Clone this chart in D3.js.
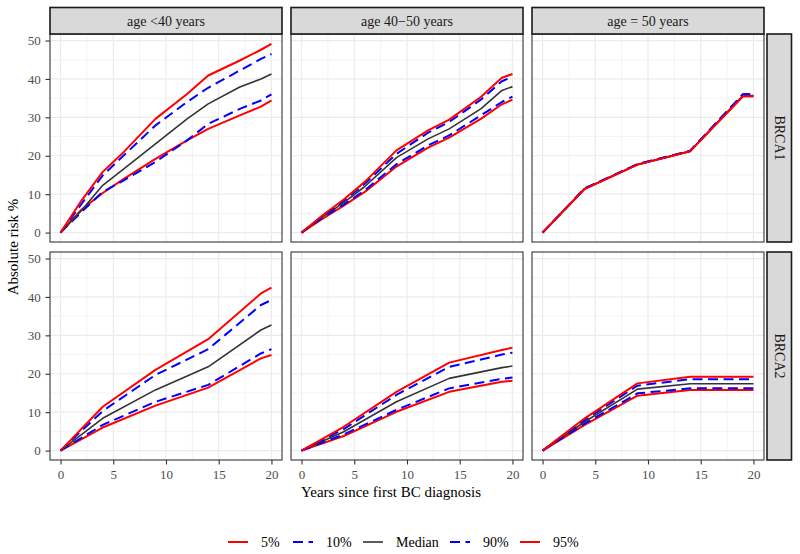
<!DOCTYPE html>
<html><head><meta charset="utf-8">
<script src="https://cdn.jsdelivr.net/npm/d3@7"></script>
<style>body{margin:0;background:#fff}svg{display:block}text{font-family:"Liberation Serif","Times New Roman",serif}</style>
</head><body><svg id="c" width="800" height="554"></svg>
<script>
// ---- data ----
const colLabels = ["age <40 years", "age 40\u221250 years", "age = 50 years"];
const rowLabels = ["BRCA1", "BRCA2"];
const seriesNames = ["5%", "10%", "Median", "90%", "95%"];
const xTicks = [0, 5, 10, 15, 20];
const yTicks = [0, 10, 20, 30, 40, 50];

const yearsFine = [0, 2, 4, 6, 9, 12, 14, 17, 19, 20];
const yearsKnots = [0, 4, 9, 14, 19, 20];

// BRCA1, age <40
const b1_lt40_p5   = [0, 6.0, 10.3, 14.0, 19.2, 24.0, 27.0, 30.5, 32.8, 34.4];
const b1_lt40_p10  = [0, 5.4, 10.6, 13.6, 18.4, 24.0, 28.3, 32.2, 34.4, 36.0];
const b1_lt40_med  = [0, 5.8, 12.3, 16.6, 23.1, 29.6, 33.5, 37.9, 40.0, 41.3];
const b1_lt40_p90  = [0, 7.5, 14.9, 20.1, 27.9, 34.0, 37.7, 42.2, 45.2, 46.5];
const b1_lt40_p95  = [0, 8.4, 15.8, 21.0, 29.6, 36.1, 40.9, 44.8, 47.6, 49.1];
// BRCA1, age 40-50
const b1_4050_p5   = [0, 3.6, 7.0, 10.6, 17.2, 22.1, 24.7, 29.6, 33.4, 34.6];
const b1_4050_p10  = [0, 3.9, 7.3, 11.0, 17.8, 22.7, 25.3, 30.5, 34.0, 35.4];
const b1_4050_med  = [0, 4.1, 7.8, 12.0, 19.5, 24.4, 27.0, 32.2, 37.0, 38.0];
const b1_4050_p90  = [0, 4.3, 8.3, 12.7, 20.5, 26.0, 28.8, 34.6, 39.4, 40.6];
const b1_4050_p95  = [0, 4.5, 8.6, 13.2, 21.4, 26.6, 29.4, 35.3, 40.3, 41.3];
// BRCA1, age 50
const b1_50_p5     = [0, 11.4, 17.7, 21.2, 35.5, 35.5];
const b1_50_p10    = [0, 11.5, 17.8, 21.3, 36.0, 36.0];
const b1_50_med    = [0, 11.4, 17.7, 21.2, 35.7, 35.7];
const b1_50_p90    = [0, 11.5, 17.8, 21.3, 36.0, 36.0];
const b1_50_p95    = [0, 11.4, 17.7, 21.2, 35.5, 35.5];
// BRCA2, age <40
const b2_lt40_p5   = [0, 6.0, 11.7, 16.4, 24.0, 24.9];
const b2_lt40_p10  = [0, 6.7, 12.7, 17.1, 25.3, 26.4];
const b2_lt40_med  = [0, 8.4, 15.8, 21.8, 31.4, 32.7];
const b2_lt40_p90  = [0, 10.3, 19.7, 26.4, 37.9, 39.2];
const b2_lt40_p95  = [0, 11.4, 21.0, 29.0, 40.9, 42.4];
// BRCA2, age 40-50
const b2_4050_p5   = [0, 3.8, 10.1, 15.3, 17.9, 18.2];
const b2_4050_p10  = [0, 4.2, 10.6, 16.2, 18.7, 19.0];
const b2_4050_med  = [0, 4.9, 12.7, 18.8, 21.6, 22.0];
const b2_4050_p90  = [0, 5.6, 14.5, 21.8, 25.0, 25.5];
const b2_4050_p95  = [0, 6.2, 15.3, 22.9, 26.2, 26.8];
// BRCA2, age 50
const b2_50_p5     = [0, 6.7, 14.3, 15.8, 15.8, 15.8];
const b2_50_p10    = [0, 7.0, 14.9, 16.2, 16.2, 16.2];
const b2_50_med    = [0, 7.5, 16.0, 17.4, 17.4, 17.4];
const b2_50_p90    = [0, 8.0, 16.9, 18.6, 18.6, 18.6];
const b2_50_p95    = [0, 8.4, 17.5, 19.2, 19.2, 19.2];

const panels = [
  {row:0, col:0, years: yearsFine,  series:[b1_lt40_p5, b1_lt40_p10, b1_lt40_med, b1_lt40_p90, b1_lt40_p95]},
  {row:0, col:1, years: yearsFine,  series:[b1_4050_p5, b1_4050_p10, b1_4050_med, b1_4050_p90, b1_4050_p95]},
  {row:0, col:2, years: yearsKnots, series:[b1_50_p5, b1_50_p10, b1_50_med, b1_50_p90, b1_50_p95]},
  {row:1, col:0, years: yearsKnots, series:[b2_lt40_p5, b2_lt40_p10, b2_lt40_med, b2_lt40_p90, b2_lt40_p95]},
  {row:1, col:1, years: yearsKnots, series:[b2_4050_p5, b2_4050_p10, b2_4050_med, b2_4050_p90, b2_4050_p95]},
  {row:1, col:2, years: yearsKnots, series:[b2_50_p5, b2_50_p10, b2_50_med, b2_50_p90, b2_50_p95]},
];

// ---- styles ----
const styles = [
  {color:"#FF0000", width:2,   dash:null},
  {color:"#0000FF", width:2,   dash:"10,5.5"},
  {color:"#333333", width:1.6, dash:null},
  {color:"#0000FF", width:2,   dash:"10,5.5"},
  {color:"#FF0000", width:2,   dash:null},
];

const FONT = "Liberation Serif";
const svg = d3.select("#c");
const pw = 232, ph = 208;
const colLeft = [50, 291, 532];
const rowTop = [34, 252];

const xDomain = [-1, 21], yDomain = [-2.45, 51.7];

function styleAxis(ax) {
  ax.attr("font-family", FONT).attr("font-size", 13);
  ax.select(".domain").remove();
  ax.selectAll(".tick line").attr("stroke", "#333333").attr("stroke-width", 1.1);
  ax.selectAll(".tick text").attr("fill", "#4D4D4D").attr("font-family", FONT).attr("font-size", 13);
}

panels.forEach(p => {
  const x0 = colLeft[p.col], y0 = rowTop[p.row];
  const x = d3.scaleLinear().domain(xDomain).range([x0, x0 + pw]);
  const y = d3.scaleLinear().domain(yDomain).range([y0 + ph, y0]);
  const g = svg.append("g");
  g.append("rect").attr("x", x0).attr("y", y0).attr("width", pw).attr("height", ph).attr("fill", "#fff");
  const clipId = "clip" + p.row + p.col;
  svg.append("clipPath").attr("id", clipId).append("rect").attr("x", x0).attr("y", y0).attr("width", pw).attr("height", ph);
  const grid = g.append("g").attr("clip-path", `url(#${clipId})`);
  [2.5, 7.5, 12.5, 17.5].forEach(v => grid.append("line").attr("x1", x(v)).attr("x2", x(v)).attr("y1", y0).attr("y2", y0 + ph).attr("stroke", "#EBEBEB").attr("stroke-width", 0.6));
  [5, 15, 25, 35, 45].forEach(v => grid.append("line").attr("y1", y(v)).attr("y2", y(v)).attr("x1", x0).attr("x2", x0 + pw).attr("stroke", "#EBEBEB").attr("stroke-width", 0.6));
  xTicks.forEach(v => grid.append("line").attr("x1", x(v)).attr("x2", x(v)).attr("y1", y0).attr("y2", y0 + ph).attr("stroke", "#EBEBEB").attr("stroke-width", 1.2));
  yTicks.forEach(v => grid.append("line").attr("y1", y(v)).attr("y2", y(v)).attr("x1", x0).attr("x2", x0 + pw).attr("stroke", "#EBEBEB").attr("stroke-width", 1.2));

  const line = d3.line().x((d, i) => x(p.years[i])).y(d => y(d));
  p.series.forEach((s, k) => {
    const st = styles[k];
    grid.append("path").datum(s).attr("d", line).attr("fill", "none")
      .attr("stroke", st.color).attr("stroke-width", st.width)
      .attr("stroke-dasharray", st.dash).attr("stroke-linejoin", "round");
  });
  g.append("rect").attr("x", x0).attr("y", y0).attr("width", pw).attr("height", ph)
    .attr("fill", "none").attr("stroke", "#333333").attr("stroke-width", 1.1);

  if (p.col === 0) {
    const ax = g.append("g").attr("transform", `translate(${x0},0)`).call(d3.axisLeft(y).tickValues(yTicks).tickSize(4.5).tickPadding(4.8));
    styleAxis(ax);
  }
  if (p.row === 1) {
    const ax = g.append("g").attr("transform", `translate(0,${y0 + ph})`).call(d3.axisBottom(x).tickValues(xTicks).tickSize(4.5).tickPadding(5));
    styleAxis(ax);
  }
});

// column strips
colLabels.forEach((lab, i) => {
  svg.append("rect").attr("x", colLeft[i]).attr("y", 7.5).attr("width", pw).attr("height", 26.5)
    .attr("fill", "#D9D9D9").attr("stroke", "#1A1A1A").attr("stroke-width", 1.6);
  svg.append("text").attr("x", colLeft[i] + pw / 2).attr("y", 21).attr("text-anchor", "middle")
    .attr("dominant-baseline", "central").attr("fill", "#1A1A1A").style("font-size", "14px").text(lab);
});
// row strips
rowLabels.forEach((lab, i) => {
  svg.append("rect").attr("x", 767).attr("y", rowTop[i]).attr("width", 24.5).attr("height", ph)
    .attr("fill", "#D9D9D9").attr("stroke", "#1A1A1A").attr("stroke-width", 1.6);
  svg.append("text").attr("transform", `translate(779.5,${rowTop[i] + ph / 2}) rotate(90)`)
    .attr("text-anchor", "middle").attr("dominant-baseline", "central").attr("fill", "#1A1A1A")
    .style("font-size", "14px").text(lab);
});

// axis titles
svg.append("text").attr("x", 391).attr("y", 497).attr("text-anchor", "middle").attr("fill", "#000")
  .style("font-size", "15px").text("Years since first BC diagnosis");
svg.append("text").attr("transform", "translate(18,247) rotate(-90)").attr("text-anchor", "middle").attr("fill", "#000")
  .style("font-size", "15px").text("Absolute risk %");

// legend
const legendX = [228, 293, 363, 450, 520];
seriesNames.forEach((name, k) => {
  const st = styles[k];
  const lx = legendX[k];
  svg.append("line").attr("x1", lx).attr("x2", lx + 20).attr("y1", 542).attr("y2", 542)
    .attr("stroke", st.color).attr("stroke-width", st.width).attr("stroke-dasharray", st.dash);
  svg.append("text").attr("x", lx + 33).attr("y", 542).attr("dominant-baseline", "central").attr("fill", "#000")
    .style("font-size", "14px").text(name);
});
</script></body></html>
